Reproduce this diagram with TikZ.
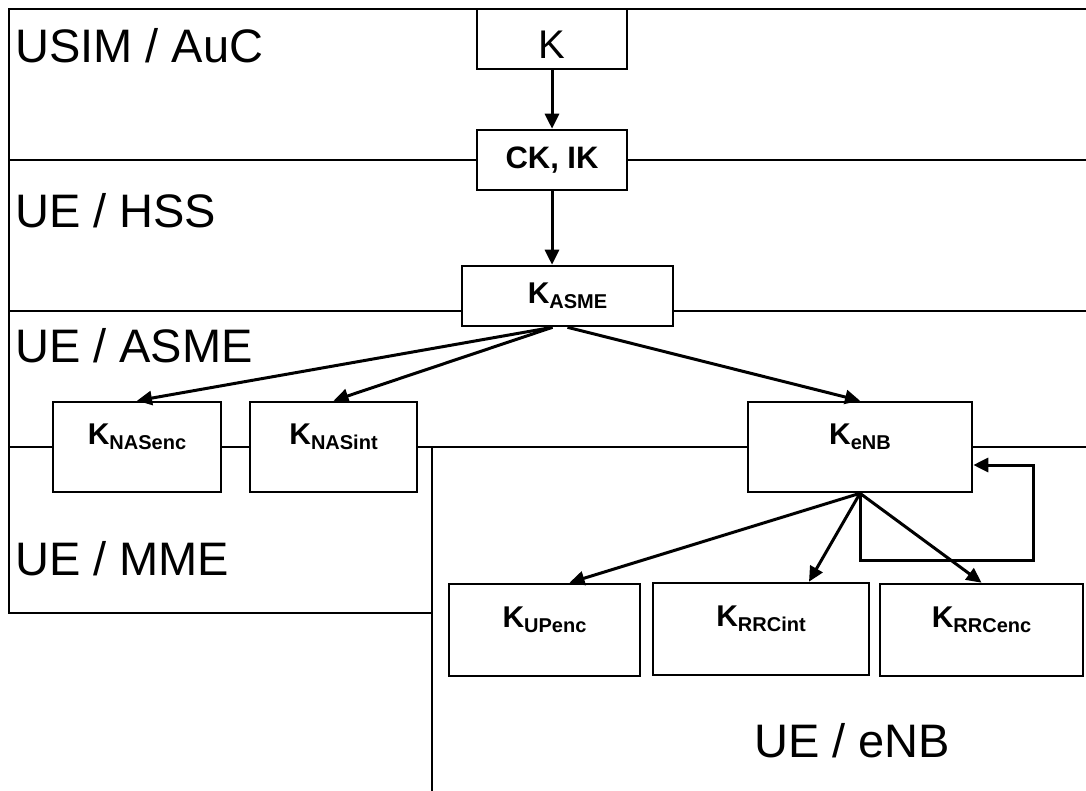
\documentclass[tikz,border=0pt]{standalone}
\usepackage{fontspec}
\setmainfont{Liberation Sans}
\usetikzlibrary{arrows.meta}

\newcommand{\keysub}[1]{\textbf{\fontsize{30}{30}\selectfont K\raisebox{-5pt}{\fontsize{20}{20}\selectfont #1}}}

\begin{document}
\begin{tikzpicture}[x=1pt,y=-1pt,
		zoneline/.style={line width=2.4pt},
		keybox/.style={draw,line width=2.6pt,fill=white},
		tallbox/.style={keybox,minimum height=90pt,text height=24pt,text depth=30pt},
		arr/.style={line width=3pt,-{Triangle[length=15pt,width=14pt]}},
		zonelabel/.style={font=\fontsize{47}{47}\selectfont,anchor=base west}]
			\tikzstyle{every node}+=[inner sep=0pt]
			\useasboundingbox (0,0) rectangle (1086,791);
			\draw[zoneline] (1086,9) -- (9,9) -- (9,613) -- (432,613);
			\draw[zoneline] (9,160) -- (1086,160);
			\draw[zoneline] (9,311) -- (1086,311);
			\draw[zoneline] (9,447) -- (1086,447);
			\draw[zoneline] (432,447) -- (432,791);
			\node[zonelabel] (usim) at (15,63) {USIM / AuC};
			\node[zonelabel] (hss) at (15,228) {UE / HSS};
			\node[zonelabel] (asme) at (15,362) {UE / ASME};
			\node[zonelabel] (mme) at (15,575) {UE / MME};
			\node[zonelabel] (enb) at (754,757) {UE / eNB};
			\node[keybox,minimum width=150pt,minimum height=60pt,text height=39pt,text depth=0pt,font=\fontsize{40}{40}\selectfont] (k) at (552,39) {K};
			\node[keybox,minimum width=150pt,minimum height=60pt,font=\bfseries\fontsize{31}{31}\selectfont] (ckik) at (552,160) {CK, IK};
			\node[keybox,minimum width=211pt,minimum height=60pt] (kasme) at (567.5,296) {\keysub{ASME}};
			\node[tallbox,minimum width=168pt] (knasenc) at (137,447) {\keysub{NASenc}};
			\node[tallbox,minimum width=167pt] (knasint) at (333.5,447) {\keysub{NASint}};
			\node[tallbox,minimum width=224pt] (kenb) at (860,447) {\keysub{eNB}};
			\node[tallbox,minimum width=191pt,minimum height=92pt] (kupenc) at (544.5,630) {\keysub{UPenc}};
			\node[tallbox,minimum width=216pt,minimum height=92pt] (krrcint) at (761,629) {\keysub{RRCint}};
			\node[tallbox,minimum width=203pt,minimum height=92pt] (krrcenc) at (981.5,630) {\keysub{RRCenc}};
			\draw[arr] (k) -- (ckik);
			\draw[arr] (ckik.south) -- (ckik.south |- kasme.north);
			\draw[arr] ([xshift=-15pt]kasme.south) -- (knasenc.north);
			\draw[arr] ([xshift=-15pt]kasme.south) -- (knasint.north);
			\draw[arr] (kasme.south) -- (kenb.north);
			\draw[arr] (kenb.south) -- ([xshift=25pt]kupenc.north);
			\draw[arr] (kenb.south) -- ([xshift=48pt]krrcint.north);
			\draw[arr] (kenb.south) -- (krrcenc.north);
			\draw[arr] (kenb.south) -- ++(0,67) -- ++(173,0) |- ([yshift=-18pt]kenb.east);
		\end{tikzpicture}
\end{document}
